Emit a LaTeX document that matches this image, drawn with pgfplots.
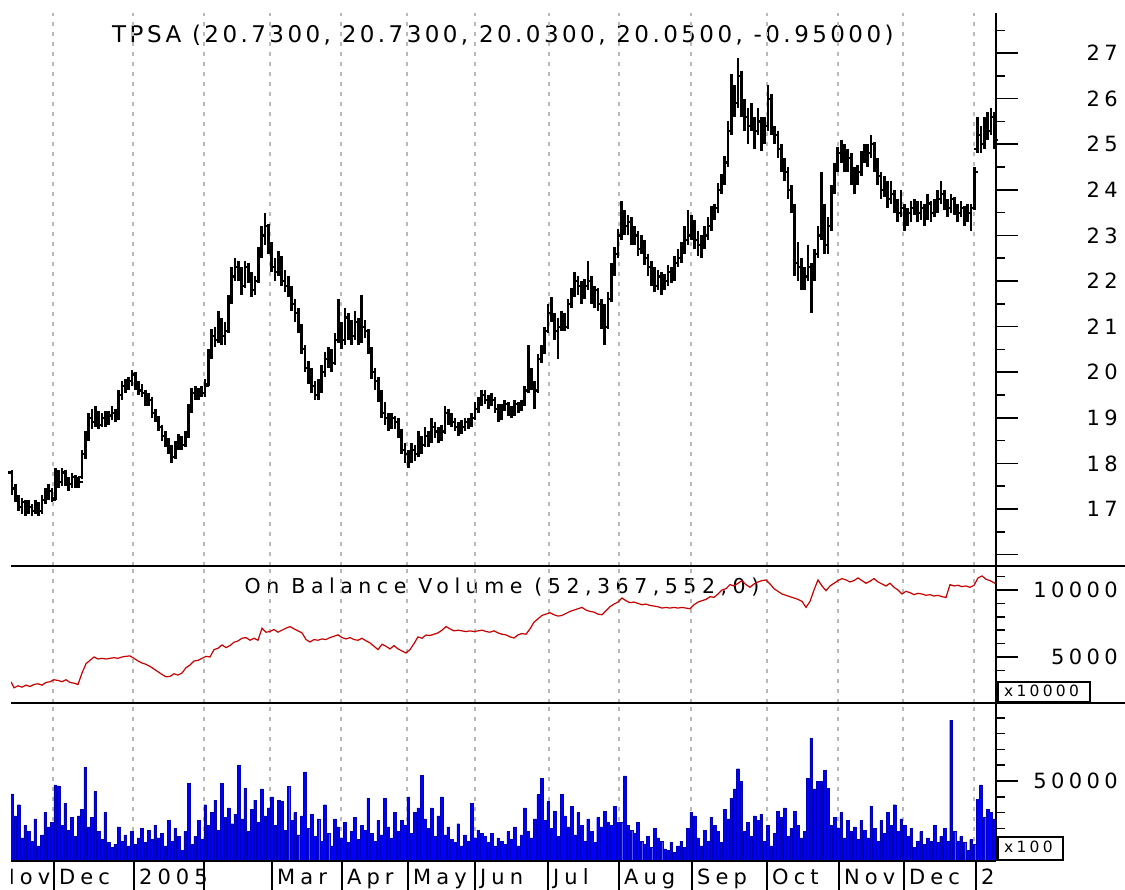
\documentclass[border=0pt]{standalone}
\usepackage{pgfplots}
\pgfplotsset{compat=1.18}
\usepackage{pgfplotstable}
\usepackage{fontspec}
\setmainfont{DejaVu Sans}
\newfontfamily\tickfont[LetterSpace=21]{DejaVu Sans}
\newfontfamily\monthfont[LetterSpace=24]{DejaVu Sans}
\newfontfamily\obvfont[LetterSpace=27]{DejaVu Sans}
\newfontfamily\titlefont[LetterSpace=15]{DejaVu Sans}
\newcommand\tf{\fontsize{21}{24}\selectfont\tickfont}
\newcommand\mf{\fontsize{21}{24}\selectfont\monthfont}
\newcommand\smallf{\fontsize{15.5}{18}\selectfont\tickfont}

\pgfdeclareplotmark{otick}{\pgfpathmoveto{\pgfqpoint{-4pt}{0pt}}\pgfpathlineto{\pgfqpoint{0pt}{0pt}}\pgfusepathqstroke}
\pgfdeclareplotmark{ctick}{\pgfpathmoveto{\pgfqpoint{0pt}{0pt}}\pgfpathlineto{\pgfqpoint{4pt}{0pt}}\pgfusepathqstroke}

\definecolor{volblue}{RGB}{0,0,255}
\definecolor{voledge}{RGB}{0,0,180}
\definecolor{obvred}{RGB}{200,0,0}
\definecolor{gridgray}{RGB}{185,185,185}

% o h l c v  (one row per trading day)
\pgfplotstableread{
o h l c v
17.80 17.85 17.30 17.45 41800
17.45 17.55 17.15 17.25 28000
17.25 17.30 16.95 17.05 35000
17.05 17.25 16.90 17.15 14000
17.15 17.20 16.85 17.00 22000
17.00 17.20 16.90 17.05 18000
17.05 17.10 16.85 16.95 12000
16.95 17.20 16.90 17.10 26000
17.10 17.15 16.85 16.95 9000
16.95 17.30 16.90 17.20 16000
17.20 17.45 17.10 17.30 30000
17.30 17.55 17.20 17.40 21000
17.40 17.45 17.15 17.20 24000
17.25 17.90 17.20 17.75 47500
17.75 17.85 17.45 17.60 47000
17.60 17.90 17.50 17.80 22000
17.80 17.85 17.50 17.65 36000
17.65 17.70 17.40 17.55 19000
17.55 17.80 17.45 17.70 27000
17.70 17.75 17.45 17.55 15000
17.55 17.70 17.45 17.60 28000
17.70 18.30 17.65 18.20 32000
18.20 18.70 18.10 18.60 58800
18.60 19.10 18.50 19.00 21000
19.00 19.20 18.75 18.90 27000
18.90 19.25 18.80 19.10 43500
19.10 19.15 18.75 18.85 18000
18.85 19.10 18.80 19.00 13000
19.00 19.15 18.80 18.90 30000
18.90 19.15 18.85 19.05 11000
19.05 19.25 18.95 19.10 8000
19.10 19.20 18.90 19.00 10000
19.00 19.60 18.95 19.50 21000
19.50 19.80 19.40 19.70 12000
19.70 19.85 19.55 19.75 16000
19.75 19.90 19.60 19.80 9000
19.80 20.05 19.70 19.95 18000
19.95 20.00 19.60 19.70 10000
19.70 19.80 19.50 19.60 14000
19.60 19.75 19.45 19.55 20000
19.55 19.60 19.25 19.35 11000
19.35 19.55 19.25 19.40 19000
19.40 19.45 19.00 19.10 13000
19.10 19.20 18.90 19.00 22000
19.00 19.05 18.70 18.80 14000
18.80 18.85 18.50 18.60 17000
18.60 18.70 18.35 18.50 9000
18.50 18.55 18.20 18.30 25000
18.30 18.40 18.00 18.15 12000
18.15 18.50 18.10 18.40 20000
18.40 18.65 18.30 18.55 15000
18.55 18.60 18.30 18.40 6000
18.40 18.70 18.35 18.60 18000
18.60 19.30 18.55 19.20 48600
19.20 19.65 19.10 19.55 10000
19.55 19.70 19.40 19.60 15000
19.60 19.65 19.40 19.50 25000
19.50 19.70 19.45 19.55 13000
19.55 19.85 19.45 19.70 35000
19.75 20.50 19.70 20.40 22000
20.40 20.95 20.30 20.80 30000
20.80 21.00 20.55 20.70 38000
20.70 21.35 20.65 21.10 19000
21.10 21.20 20.60 20.80 48600
20.80 21.10 20.60 20.90 27000
20.90 21.70 20.85 21.60 33000
21.60 22.30 21.50 22.10 23000
22.10 22.50 22.00 22.30 29000
22.30 22.45 22.00 22.20 60000
22.20 22.30 21.70 21.90 26000
21.90 22.45 21.85 22.30 45500
22.30 22.40 21.95 22.10 18000
22.10 22.20 21.65 21.80 32000
21.80 22.10 21.70 22.00 38000
22.00 22.75 21.95 22.60 24000
22.60 23.20 22.50 23.00 45000
23.00 23.50 22.80 23.20 28000
23.20 23.25 22.60 22.70 33000
22.70 22.85 22.20 22.30 40000
22.30 22.50 22.00 22.20 22000
22.20 22.65 22.10 22.50 38000
22.50 22.55 21.90 22.00 37000
22.00 22.25 21.75 21.90 19000
21.90 22.10 21.65 21.80 46500
21.80 21.90 21.35 21.50 25000
21.50 21.60 21.10 21.30 30000
21.30 21.40 20.85 21.00 16000
21.00 21.05 20.40 20.50 28000
20.50 20.60 20.00 20.10 55800
20.10 20.25 19.75 19.90 20000
19.90 20.10 19.55 19.70 29000
19.70 19.80 19.40 19.50 15000
19.50 19.85 19.40 19.60 26000
19.60 20.15 19.55 20.00 12000
20.00 20.45 19.90 20.30 35000
20.30 20.55 20.10 20.40 17000
20.40 20.50 20.00 20.20 9000
20.20 20.85 20.15 20.70 26000
20.70 21.60 20.65 21.00 21000
21.00 21.10 20.50 20.70 14000
20.70 21.40 20.60 21.20 24000
21.20 21.30 20.70 20.90 11000
20.90 21.15 20.60 20.80 18000
20.80 21.35 20.70 21.10 27000
21.10 21.20 20.60 20.70 13000
20.70 21.70 20.65 21.00 22000
21.00 21.15 20.75 20.90 19000
20.90 20.95 20.40 20.50 39000
20.50 20.55 19.85 20.00 17000
20.00 20.10 19.60 19.80 12000
19.80 19.90 19.35 19.50 25000
19.50 19.60 19.00 19.10 16000
19.10 19.35 18.85 19.00 39000
19.00 19.10 18.70 18.80 21000
18.80 19.10 18.75 19.00 14000
19.00 19.05 18.75 18.90 30000
18.90 19.00 18.55 18.70 18000
18.70 18.75 18.20 18.30 25000
18.30 18.45 18.00 18.20 22000
18.20 18.30 17.90 18.10 40000
18.10 18.45 18.00 18.30 17000
18.30 18.40 18.05 18.20 30000
18.20 18.70 18.15 18.50 33000
18.50 18.60 18.20 18.40 53700
18.40 18.80 18.35 18.60 26000
18.60 18.70 18.35 18.50 20000
18.50 19.00 18.45 18.80 33000
18.80 18.90 18.55 18.70 15000
18.70 18.80 18.45 18.60 28000
18.60 18.85 18.50 18.70 40000
18.70 19.25 18.65 19.10 16000
19.10 19.20 18.85 19.00 21000
19.00 19.10 18.80 18.90 13000
18.90 19.00 18.70 18.80 11000
18.80 18.90 18.60 18.70 23000
18.70 18.95 18.65 18.80 9000
18.80 19.00 18.70 18.90 16000
18.90 19.00 18.75 18.85 12000
18.85 19.10 18.80 19.00 36000
19.00 19.35 18.95 19.20 14000
19.20 19.45 19.10 19.30 19000
19.30 19.60 19.25 19.50 17000
19.50 19.60 19.30 19.40 15000
19.40 19.50 19.20 19.30 11000
19.30 19.55 19.25 19.40 17000
19.40 19.45 19.10 19.20 9000
19.20 19.30 18.90 19.00 14000
19.00 19.30 18.95 19.20 12000
19.20 19.40 19.15 19.30 10000
19.30 19.35 19.05 19.20 18000
19.20 19.25 19.00 19.10 13000
19.10 19.40 19.05 19.30 21000
19.30 19.35 19.10 19.20 9000
19.20 19.40 19.15 19.30 16000
19.30 19.70 19.25 19.60 33000
19.60 20.60 19.55 20.00 18000
20.00 20.10 19.60 19.70 14000
19.70 19.80 19.20 19.60 26000
19.60 20.40 19.55 20.30 41400
20.30 20.60 20.20 20.50 51700
20.50 21.00 20.40 20.90 25000
20.90 21.50 20.85 21.30 37000
21.30 21.65 21.10 21.20 20000
21.20 21.30 20.70 20.90 31000
20.90 21.20 20.30 21.00 15000
21.00 21.35 20.90 21.20 41400
21.20 21.30 20.90 21.00 28000
21.00 21.60 20.95 21.50 21000
21.50 21.85 21.40 21.70 34000
21.70 22.20 21.65 22.00 16000
22.00 22.10 21.70 21.90 30000
21.90 22.00 21.50 21.70 22000
21.70 22.05 21.60 21.90 12000
21.90 22.45 21.80 22.00 26000
22.00 22.10 21.50 21.60 18000
21.60 21.90 21.40 21.80 11000
21.80 21.85 21.35 21.50 27000
21.50 21.60 20.95 21.10 21000
21.10 21.50 20.60 21.00 31000
21.00 21.75 20.95 21.60 24000
21.60 22.40 21.55 22.20 22000
22.20 22.75 22.10 22.60 34000
22.60 23.15 22.50 23.00 24000
23.00 23.75 22.90 23.50 24000
23.50 23.55 23.00 23.20 53300
23.20 23.45 23.00 23.30 22000
23.30 23.40 22.80 22.90 19000
22.90 23.20 22.80 23.00 17000
23.00 23.10 22.55 22.70 24000
22.70 23.00 22.60 22.80 12000
22.80 22.90 22.35 22.50 10000
22.50 22.60 22.10 22.30 15000
22.30 22.45 21.90 22.20 8000
22.20 22.30 21.75 21.90 20000
21.90 22.25 21.80 22.10 14000
22.10 22.20 21.70 21.90 12000
21.90 22.15 21.80 22.00 7000
22.00 22.35 21.90 22.20 6000
22.20 22.30 21.95 22.10 11000
22.10 22.55 22.00 22.40 5000
22.40 22.70 22.30 22.50 9000
22.50 22.85 22.40 22.70 12000
22.70 23.20 22.60 22.90 8000
22.90 23.55 22.80 23.00 20000
23.00 23.45 22.90 23.30 30000
23.30 23.35 22.70 22.90 28000
22.90 23.10 22.55 22.80 14000
22.80 23.00 22.50 22.80 9000
22.80 23.20 22.70 23.00 19000
23.00 23.40 22.90 23.20 12000
23.20 23.65 23.10 23.50 27000
23.50 23.70 23.35 23.60 22000
23.60 24.15 23.50 24.00 18000
24.00 24.35 23.90 24.20 11000
24.20 24.75 24.10 24.60 32000
24.60 25.50 24.50 25.30 26000
25.30 26.55 25.20 26.00 39000
26.00 26.30 25.60 25.90 45000
25.90 26.90 25.80 26.50 57800
26.50 26.60 25.60 25.80 49600
25.80 26.00 25.30 25.60 18000
25.60 25.80 25.00 25.40 24000
25.40 25.90 25.30 25.50 15000
25.50 25.60 24.90 25.30 28000
25.30 25.80 25.20 25.50 25000
25.50 25.60 24.85 25.10 29000
25.10 25.60 25.00 25.40 12000
25.40 26.30 25.30 26.00 22000
26.00 26.10 25.20 25.30 9000
25.30 25.40 25.00 25.20 17000
25.20 25.30 24.70 24.90 31000
24.90 25.00 24.40 24.60 27000
24.60 24.70 24.20 24.40 33000
24.40 24.50 23.80 24.00 15000
24.00 24.10 23.50 23.60 20000
23.60 23.70 22.10 22.40 31000
22.40 22.85 22.00 22.30 22000
22.30 22.50 21.80 22.00 14000
22.00 22.30 21.80 22.10 18000
22.10 22.80 22.00 22.30 51700
22.30 22.40 21.30 22.10 77000
22.10 22.70 22.00 22.60 45000
22.60 23.20 22.50 23.00 50000
23.00 24.40 22.90 23.60 49600
23.60 23.70 22.60 22.80 56800
22.80 23.40 22.60 23.20 45500
23.20 24.10 23.10 24.00 22000
24.00 24.60 23.90 24.50 27000
24.50 24.95 24.40 24.80 20000
24.80 25.10 24.60 24.90 30000
24.90 25.00 24.40 24.60 14000
24.60 24.90 24.40 24.70 25000
24.70 24.80 24.10 24.40 18000
24.40 24.50 23.90 24.20 21000
24.20 24.55 24.10 24.40 13000
24.40 24.85 24.30 24.70 25000
24.70 25.00 24.60 24.90 19000
24.90 25.00 24.50 24.80 14000
24.80 25.20 24.70 25.00 34200
25.00 25.05 24.40 24.60 20000
24.60 24.70 24.10 24.30 12000
24.30 24.40 23.80 24.00 25000
24.00 24.30 23.85 24.10 17000
24.10 24.20 23.60 23.80 30000
23.80 24.20 23.70 23.90 22000
23.90 24.00 23.50 23.70 35000
23.70 23.80 23.30 23.50 18000
23.50 24.00 23.40 23.60 26000
23.60 23.70 23.10 23.30 22000
23.30 23.60 23.20 23.50 15000
23.50 23.75 23.30 23.60 20000
23.60 23.80 23.45 23.70 8000
23.70 23.75 23.30 23.50 12000
23.50 23.75 23.35 23.60 18000
23.60 23.70 23.20 23.40 10000
23.40 23.90 23.35 23.70 14000
23.70 23.75 23.30 23.50 12000
23.50 23.80 23.40 23.60 22000
23.60 24.00 23.50 23.80 11000
23.80 24.20 23.70 23.90 15000
23.90 24.00 23.55 23.70 20000
23.70 23.80 23.40 23.60 12000
23.60 23.90 23.50 23.80 88600
23.80 23.85 23.45 23.60 18000
23.60 23.70 23.30 23.50 12000
23.50 23.75 23.40 23.60 15000
23.60 23.65 23.20 23.40 11000
23.40 23.70 23.30 23.50 6000
23.50 23.70 23.10 23.60 13000
23.60 24.50 23.55 24.40 10000
24.90 25.60 24.80 25.20 38300
25.20 25.40 24.80 25.00 47600
25.00 25.60 24.90 25.40 27000
25.40 25.70 25.10 25.30 32000
25.30 25.80 25.20 25.60 30000
25.60 25.70 24.90 25.10 26000
}\price

% On Balance Volume (x = position along the time axis, value in units of 10000)
\pgfplotstableread{
x obv
11 3150
14 2700
18 2850
22 2750
26 2900
30 2800
34 2950
38 3000
42 2900
46 3100
50 3150
54 3300
58 3250
62 3150
66 3300
70 3100
74 3050
78 2950
82 3800
86 4500
90 4750
94 5000
98 4850
102 4900
106 4850
110 4900
114 4950
118 4900
122 5000
126 5050
130 5080
134 4900
138 4700
142 4550
146 4450
150 4300
154 4100
158 3900
162 3700
166 3520
170 3550
174 3750
178 3650
182 3800
186 4200
190 4400
194 4700
198 4750
202 4900
206 5050
210 5000
214 5550
218 5650
222 5900
226 5700
230 5850
234 6100
238 6200
242 6400
246 6450
250 6250
254 6400
258 6250
262 7150
266 6850
270 6900
274 7050
278 6850
282 7000
286 7150
290 7270
294 7100
298 6950
302 6800
306 6300
310 6120
314 6300
318 6250
322 6350
326 6300
330 6450
334 6550
338 6650
342 6450
346 6350
350 6450
354 6300
358 6250
362 6400
366 6200
370 6050
374 5800
378 5550
382 5950
386 5800
390 5600
394 5850
398 5600
402 5450
406 5300
410 5550
414 6000
418 6500
422 6400
426 6640
430 6600
434 6700
438 6800
442 7000
446 7270
450 7100
454 6950
458 7000
462 6950
466 6900
470 6950
474 6900
478 6950
482 7000
486 6900
490 6850
494 6950
498 6800
502 6700
506 6650
510 6500
514 6420
518 6650
522 6750
526 6700
530 7100
534 7600
538 7850
542 8100
546 8200
550 8300
554 8150
558 8050
562 8100
566 8250
570 8400
574 8500
578 8600
582 8700
586 8500
590 8400
594 8350
598 8200
602 8150
606 8450
610 8750
614 8950
618 9100
622 9400
626 9200
630 9050
634 9100
638 9000
642 8900
646 8950
650 8850
654 8800
658 8750
662 8650
666 8700
670 8650
674 8700
678 8650
682 8700
686 8650
690 8600
694 8900
698 9100
702 9200
706 9300
710 9500
714 9450
718 9700
722 10000
726 10100
730 10400
734 10300
738 10500
742 10700
746 10400
750 10200
754 10450
758 10600
762 10700
766 10750
770 10450
774 10100
778 9900
782 9700
786 9600
790 9500
794 9400
798 9300
802 9150
806 8700
810 9150
814 10000
818 10750
822 10300
826 9950
830 10300
834 10500
838 10700
842 10850
846 10750
850 10600
854 10700
858 10900
862 10700
866 10500
870 10650
874 10850
878 10600
882 10450
886 10300
890 10500
894 10200
898 10000
902 9700
906 9900
910 9800
914 9650
918 9750
922 9700
926 9600
930 9650
934 9550
938 9600
942 9500
946 9450
950 10400
954 10300
958 10350
962 10250
966 10300
970 10200
974 10350
978 10900
982 11050
986 10800
990 10700
995 10500
}\obv

\pgfplotsset{
  panel/.style={
    scale only axis, anchor=south west, width=985pt,
    xmin=11, xmax=996,
    axis line style={draw=none},
    xtick={53,133,204,270,341,407,475,549,619,691,767,838,903,974},
    xticklabels={}, xmajorgrids=true, ymajorgrids=false,
    xtick style={draw=none},
    grid style={gridgray, line width=1.4pt, dash pattern=on 4pt off 6pt},
    ytick pos=right, yticklabel pos=right, tick align=outside,
    major tick length=22pt, minor tick length=9pt,
    ytick style={black, line width=1.6pt},
    minor tick style={black, line width=1.6pt},
    yticklabel style={font=\tf, anchor=east, inner sep=0pt, xshift=100pt},
    scaled y ticks=false,
  }
}

\begin{document}
\begin{tikzpicture}
\path[use as bounding box] (0pt,0pt) rectangle (1125pt,890pt);

% panel titles (drawn first, so the data lie on top of them)
\node[anchor=base, inner sep=0pt, font=\fontsize{23}{26}\selectfont\titlefont] at (503pt,847pt)
  {TPSA (20.7300, 20.7300, 20.0300, 20.0500, -0.95000)};
\node[anchor=base, inner sep=0pt, font=\fontsize{20.5}{23}\selectfont\obvfont] at (502pt,296pt)
  {On Balance Volume (52,367,552,0)};

% ---- price panel ----
\begin{axis}[panel, at={(11pt,324pt)}, height=553pt,
  ymin=15.75, ymax=27.88,
  ytick={16,...,27}, yticklabels={{},17,18,19,20,21,22,23,24,25,26,27},
  minor ytick={15.5,16.5,...,27.5}]
\addplot[black, line width=2.7pt, no markers, quiver={u=0, v=\thisrow{l}-\thisrow{h}}]
  table[x expr={12+3.33*\coordindex}, y=h] {\price};
\addplot[black, only marks, mark=otick, mark options={line width=2.1pt}]
  table[x expr={12+3.33*\coordindex}, y=o] {\price};
\addplot[black, only marks, mark=ctick, mark options={line width=2.1pt}]
  table[x expr={12+3.33*\coordindex}, y=c] {\price};
\end{axis}

% ---- on balance volume panel ----
\begin{axis}[panel, at={(11pt,187pt)}, height=137pt,
  ymin=1567, ymax=11791,
  ytick={5000,10000}, yticklabels={5000,10000},
  minor ytick={2000,3000,4000,6000,7000,8000,9000,11000}]
\addplot[obvred, line width=1.2pt, no markers] table[x=x, y=obv] {\obv};
\end{axis}

% ---- volume panel ----
\begin{axis}[panel, at={(11pt,29pt)}, height=158pt,
  ymin=-600, ymax=99400,
  ytick={50000}, yticklabels={50000},
  minor ytick={10000,20000,...,90000}]
\addplot[ybar, bar width=2.7pt, fill=volblue, draw=voledge, line width=0.4pt]
  table[x expr={12+3.33*\coordindex}, y=v] {\price};
\end{axis}

% frame lines
\draw[line width=1.6pt] (996pt,29pt) -- (996pt,877pt);
\draw[line width=1.6pt] (11pt,324pt) -- (1125pt,324pt);
\draw[line width=1.6pt] (11pt,187pt) -- (1125pt,187pt);
\draw[line width=1.6pt] (11pt,29pt) -- (996pt,29pt);

% scale boxes
\draw[line width=1.5pt, fill=white] (998pt,188pt) rectangle (1090pt,208pt);
\node[anchor=base west, inner sep=0pt, font=\smallf] at (1004pt,193pt) {x10000};
\draw[line width=1.5pt, fill=white] (998pt,30pt) rectangle (1063pt,53pt);
\node[anchor=base west, inner sep=0pt, font=\smallf] at (1004pt,37pt) {x100};

% month row
\foreach \s in {54,134,204,272,342,408,475,548,619,692,767,839,904,976}
  \draw[line width=1.6pt] (\s pt,0pt) -- (\s pt,29pt);
\begin{scope}
  \clip (11pt,0pt) rectangle (53pt,29pt);
  \node[anchor=base west, inner sep=0pt, font=\mf] at (-1pt,5pt) {Nov};
\end{scope}
\foreach \s/\m in {59/Dec,139/2005,277/Mar,347/Apr,413/May,480/Jun,553/Jul,624/Aug,697/Sep,772/Oct,844/Nov,909/Dec,981/2}
  \node[anchor=base west, inner sep=0pt, font=\mf] at (\s pt,5pt) {\m};
\end{tikzpicture}
\end{document}
